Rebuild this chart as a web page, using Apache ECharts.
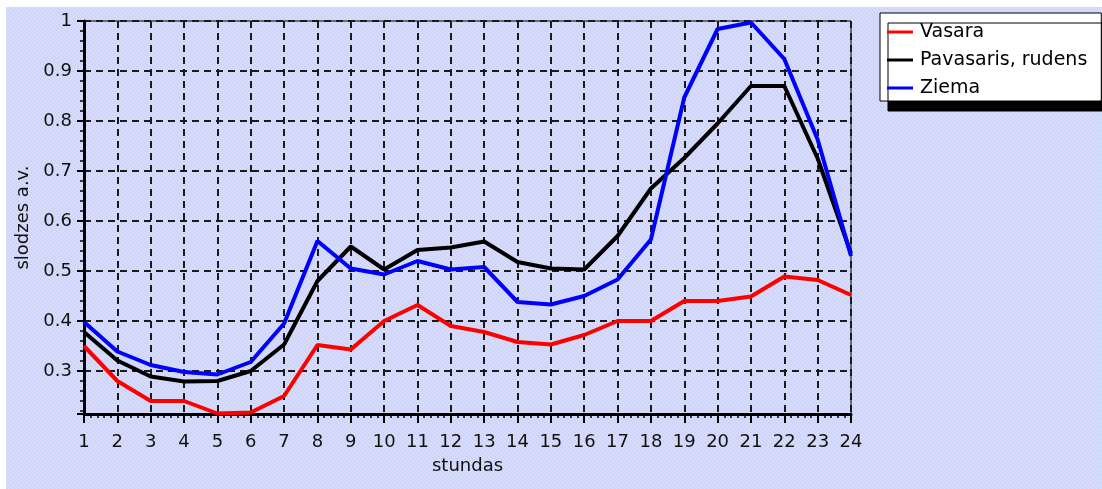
<!DOCTYPE html>
<html>
<head>
<meta charset="utf-8">
<script src="https://cdn.jsdelivr.net/npm/echarts@6/dist/echarts.min.js"></script>
<style>
  html, body { margin: 0; padding: 0; background: #fff; }
  #main { width: 1102px; height: 489px; }
</style>
</head>
<body>
<div id="main"></div>
<script>
// stundas 1..24
var hours = [1, 2, 3, 4, 5, 6, 7, 8, 9, 10, 11, 12, 13, 14, 15, 16, 17, 18, 19, 20, 21, 22, 23, 24]
var vasara = [0.35, 0.28, 0.24, 0.24, 0.215, 0.217, 0.25, 0.352, 0.343, 0.40, 0.432, 0.39,
  0.378, 0.358, 0.353, 0.372, 0.40, 0.40, 0.44, 0.44, 0.449, 0.489, 0.482, 0.452]
var pavasaris = [0.378, 0.321, 0.289, 0.279, 0.28, 0.30, 0.353, 0.48, 0.549, 0.503, 0.542, 0.547,
  0.559, 0.518, 0.505, 0.503, 0.57, 0.665, 0.726, 0.795, 0.87, 0.87, 0.725, 0.535]
var ziema = [0.398, 0.339, 0.312, 0.298, 0.293, 0.318, 0.395, 0.56, 0.505, 0.493, 0.52, 0.503,
  0.508, 0.438, 0.433, 0.45, 0.483, 0.563, 0.847, 0.984, 0.997, 0.924, 0.763, 0.53]
var names = ["Vasara", "Pavasaris, rudens", "Ziema"]

function pairs(vals) {
  return hours.map(function (h, i) { return [h, vals[i]] })
}

// fons ar rūtiņu rakstu
var pat = document.createElement("canvas")
pat.width = 4
pat.height = 4
var pc = pat.getContext("2d")
pc.fillStyle = "#c6d9ff"
pc.fillRect(0, 0, 4, 4)
pc.fillStyle = "#e4dcf8"
pc.fillRect(0, 0, 1, 1)
pc.fillRect(2, 2, 1, 1)
pc.fillRect(1, 1, 1, 1)
pc.fillRect(3, 3, 1, 1)

var font = "DejaVu Sans"

var option = {
  backgroundColor: "#fff",
  animation: false,
  graphic: [
    {
      type: "rect",
      z: -10,
      silent: true,
      shape: { x: 6, y: 7, width: 1096, height: 482 },
      style: { fill: { image: pat, repeat: "repeat" } }
    }
  ],
  grid: {
    left: 84,
    right: 251,
    top: 21,
    bottom: 75,
    show: true,
    borderColor: "#000",
    borderWidth: 1,
    backgroundColor: "transparent"
  },
  legend: {
    data: names,
    orient: "vertical",
    left: 880,
    top: 13,
    icon: "rect",
    itemWidth: 26,
    itemHeight: 3,
    itemGap: 6,
    padding: [8, 14, 2, 7],
    backgroundColor: "#fff",
    borderColor: "#000",
    borderWidth: 1,
    borderRadius: 0,
    shadowColor: "#000",
    shadowBlur: 0,
    shadowOffsetX: 8,
    shadowOffsetY: 10,
    textStyle: { fontFamily: font, fontSize: 19, color: "#000", lineHeight: 22, padding: [0, 0, 0, 2] }
  },
  xAxis: {
    type: "value",
    min: 1,
    max: 24,
    interval: 1,
    name: "stundas",
    nameLocation: "middle",
    nameGap: 43,
    nameTextStyle: { fontFamily: font, fontSize: 18, color: "#111" },
    axisLine: { show: true, lineStyle: { color: "#000", width: 3 } },
    axisTick: { show: true, length: 9, lineStyle: { color: "#000", width: 2 } },
    minorTick: { show: true, splitNumber: 5, length: 4, lineStyle: { color: "#000", width: 1.5 } },
    axisLabel: { margin: 19, fontFamily: font, fontSize: 18, color: "#111" },
    splitLine: { show: true, lineStyle: { color: "#1a1a1a", width: 2, type: [7, 5] } }
  },
  yAxis: {
    type: "value",
    min: 0.214,
    max: 1,
    splitNumber: 8,
    name: "slodzes a.v.",
    nameLocation: "middle",
    nameGap: 46,
    nameTextStyle: { fontFamily: font, fontSize: 18, color: "#111" },
    axisLine: { show: true, lineStyle: { color: "#000", width: 3 } },
    axisTick: { show: true, length: 7, lineStyle: { color: "#000", width: 2 } },
    minorTick: { show: true, splitNumber: 5, length: 4, lineStyle: { color: "#000", width: 1.5 } },
    axisLabel: {
      margin: 12,
      showMinLabel: false,
      fontFamily: font,
      fontSize: 18,
      color: "#111",
      formatter: function (v) { return Math.round(v * 10) / 10 + "" }
    },
    splitLine: { show: true, lineStyle: { color: "#1a1a1a", width: 2, type: [7, 5] } }
  },
  series: [
    { name: names[0], type: "line", data: pairs(vasara), color: "#ff0000", showSymbol: false, lineStyle: { width: 4, color: "#ff0000" } },
    { name: names[1], type: "line", data: pairs(pavasaris), color: "#000000", showSymbol: false, lineStyle: { width: 4, color: "#000000" } },
    { name: names[2], type: "line", data: pairs(ziema), color: "#0000ff", showSymbol: false, lineStyle: { width: 4, color: "#0000ff" } }
  ]
}

var myChart = echarts.init(document.getElementById("main"))
myChart.setOption(option)
</script>
</body>
</html>
